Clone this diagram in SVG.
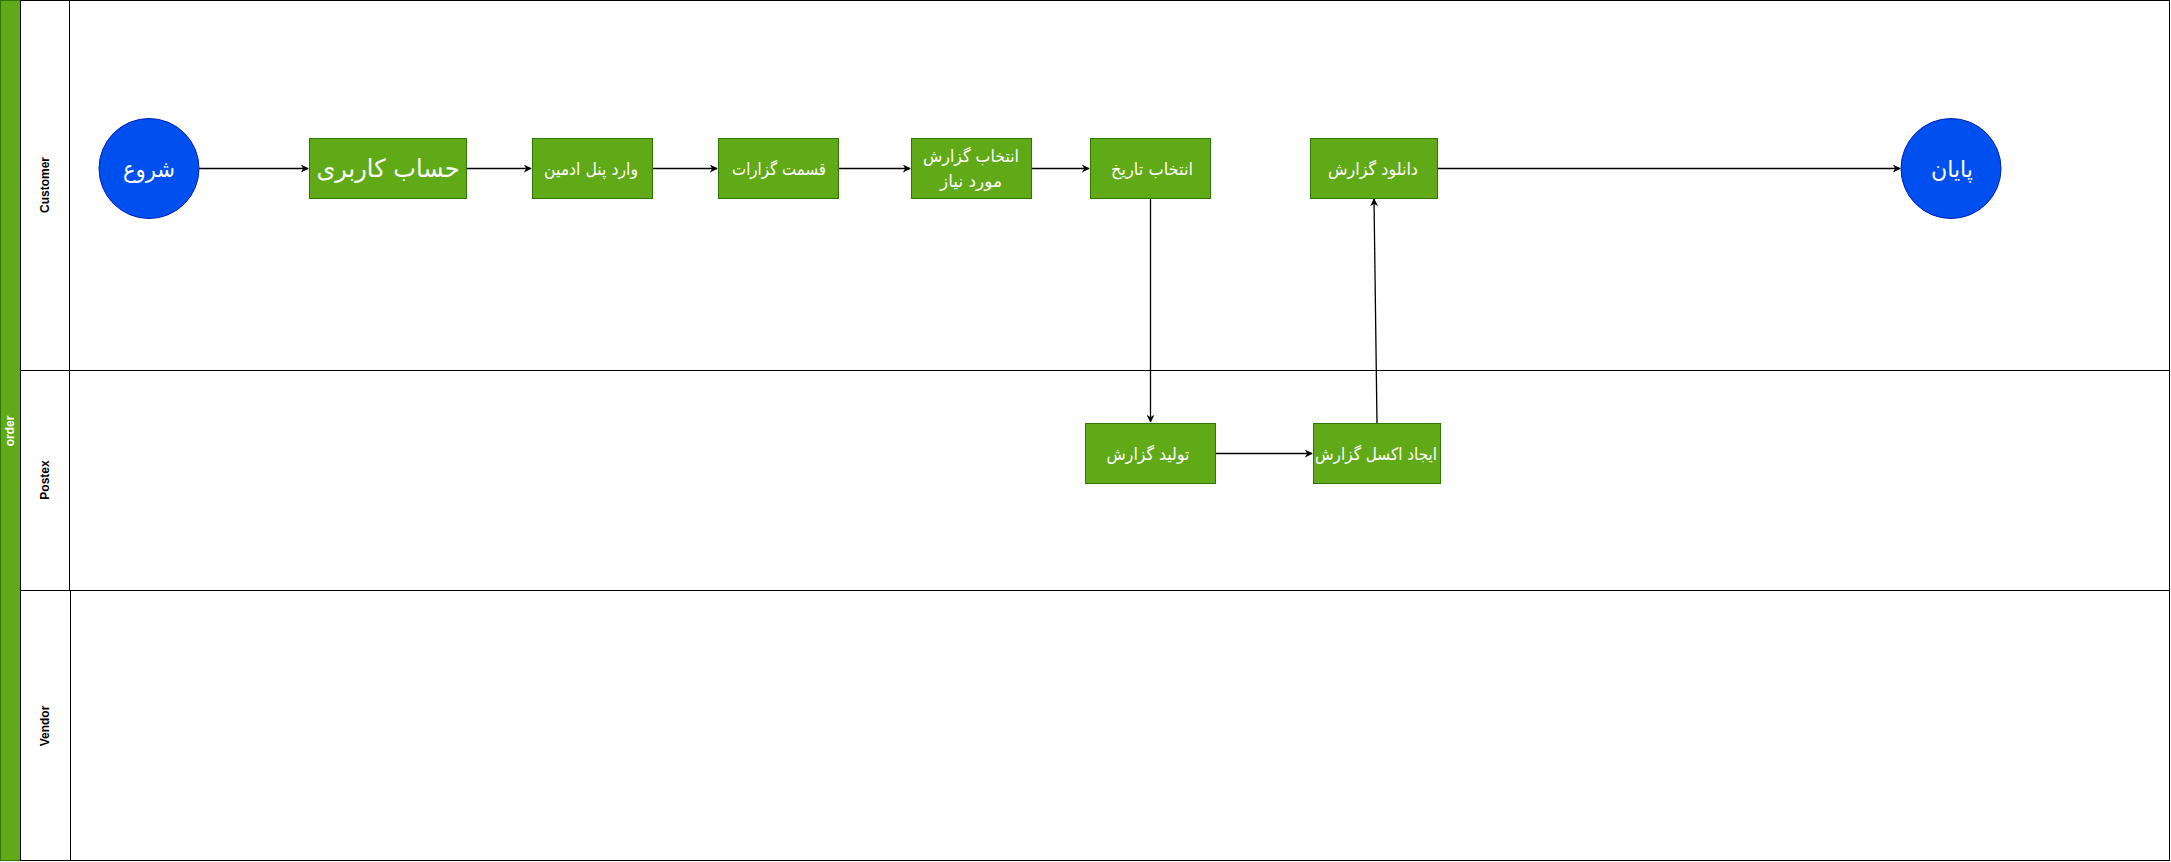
<svg xmlns="http://www.w3.org/2000/svg" width="2171" height="862" viewBox="0 0 2171 862">
<style>
.lane{fill:#fff;stroke:#000;stroke-width:1}
.hdr{font-family:"Liberation Sans",Arial,sans-serif;font-size:12px;font-weight:bold;fill:#000;text-anchor:middle}
.box{fill:#60A917;stroke:#2D7600;stroke-width:1}
.circ{fill:#0050EF;stroke:#001DBC;stroke-width:1}
.t{font-family:"DejaVu Sans","Noto Sans",sans-serif;fill:#fff;text-anchor:middle;dominant-baseline:central;font-size:17px}
.c{stroke:#000;stroke-width:1.3;fill:none;marker-end:url(#a)}
</style>
<defs>
<marker id="a" viewBox="0 0 10 10" refX="9" refY="5" markerWidth="8" markerHeight="8" markerUnits="userSpaceOnUse" orient="auto">
<path d="M0,0 L10,5 L0,10 L3,5 Z" fill="#000"/>
</marker>
</defs>
<g id="pool">
<rect x="0.5" y="0.5" width="2169" height="860" fill="#fff" stroke="#000"/>
<rect x="0.5" y="0.5" width="20" height="860" fill="#60A917" stroke="#2D7600"/>
<text class="hdr" transform="translate(14,431) rotate(-90)" style="fill:#fff">order</text>
</g>
<g id="lane-customer">
<rect class="lane" x="20.5" y="0.5" width="2149" height="370"/>
<line x1="69.5" y1="0.5" x2="69.5" y2="370.5" stroke="#000"/>
<text class="hdr" transform="translate(49,185) rotate(-90)">Customer</text>
</g>
<g id="lane-postex">
<rect class="lane" x="20.5" y="370.5" width="2149" height="220"/>
<line x1="69.5" y1="370.5" x2="69.5" y2="590.5" stroke="#000"/>
<text class="hdr" transform="translate(49,480) rotate(-90)">Postex</text>
</g>
<g id="lane-vendor">
<rect class="lane" x="20.5" y="590.5" width="2149" height="270"/>
<line x1="70.5" y1="590.5" x2="70.5" y2="860.5" stroke="#000"/>
<text class="hdr" transform="translate(49,726) rotate(-90)">Vendor</text>
</g>
<g id="connectors">
<line class="c" x1="199" y1="168.5" x2="308" y2="168.5"/>
<line class="c" x1="467" y1="168.5" x2="531" y2="168.5"/>
<line class="c" x1="652" y1="168.5" x2="717" y2="168.5"/>
<line class="c" x1="838" y1="168.5" x2="910" y2="168.5"/>
<line class="c" x1="1031" y1="168.5" x2="1089" y2="168.5"/>
<line class="c" x1="1150.5" y1="198" x2="1150.5" y2="422"/>
<line class="c" x1="1215" y1="453.5" x2="1312" y2="453.5"/>
<line class="c" x1="1377" y1="423" x2="1374" y2="199"/>
<line class="c" x1="1437" y1="168.5" x2="1900" y2="168.5"/>
</g>
<g id="start">
<circle class="circ" cx="149" cy="168.5" r="50"/>
<text class="t" x="149" y="168.5" style="font-size:23px" textLength="52" lengthAdjust="spacingAndGlyphs">شروع</text>
</g>
<g id="user-account">
<rect class="box" x="309.5" y="138.5" width="157" height="60"/>
<text class="t" x="388" y="168.5" style="font-size:25px" textLength="143" lengthAdjust="spacingAndGlyphs">حساب کاربری</text>
</g>
<g id="admin-panel">
<rect class="box" x="532.5" y="138.5" width="120" height="60"/>
<text class="t" x="591" y="168.5" textLength="94" lengthAdjust="spacingAndGlyphs">وارد پنل ادمین</text>
</g>
<g id="reports-section">
<rect class="box" x="718.5" y="138.5" width="120" height="60"/>
<text class="t" x="779" y="168.5" textLength="94" lengthAdjust="spacingAndGlyphs">قسمت گزارات</text>
</g>
<g id="select-report">
<rect class="box" x="911.5" y="138.5" width="120" height="60"/>
<text class="t" x="971" y="156" textLength="96" lengthAdjust="spacingAndGlyphs">انتخاب گزارش</text>
<text class="t" x="971" y="181" textLength="62" lengthAdjust="spacingAndGlyphs">مورد نیاز</text>
</g>
<g id="select-date">
<rect class="box" x="1090.5" y="138.5" width="120" height="60"/>
<text class="t" x="1152" y="168.5" textLength="82" lengthAdjust="spacingAndGlyphs">انتخاب تاریخ</text>
</g>
<g id="download-report">
<rect class="box" x="1310.5" y="138.5" width="127" height="60"/>
<text class="t" x="1373" y="168.5" textLength="90" lengthAdjust="spacingAndGlyphs">دانلود گزارش</text>
</g>
<g id="end">
<circle class="circ" cx="1951" cy="168.5" r="50"/>
<text class="t" x="1952" y="168.5" style="font-size:23px" textLength="42" lengthAdjust="spacingAndGlyphs">پایان</text>
</g>
<g id="generate-report">
<rect class="box" x="1085.5" y="423.5" width="130" height="60"/>
<text class="t" x="1148" y="453.5" textLength="83" lengthAdjust="spacingAndGlyphs">تولید گزارش</text>
</g>
<g id="create-excel">
<rect class="box" x="1313.5" y="423.5" width="127" height="60"/>
<text class="t" x="1376" y="453.5" textLength="122" lengthAdjust="spacingAndGlyphs">ایجاد اکسل گزارش</text>
</g>
</svg>
